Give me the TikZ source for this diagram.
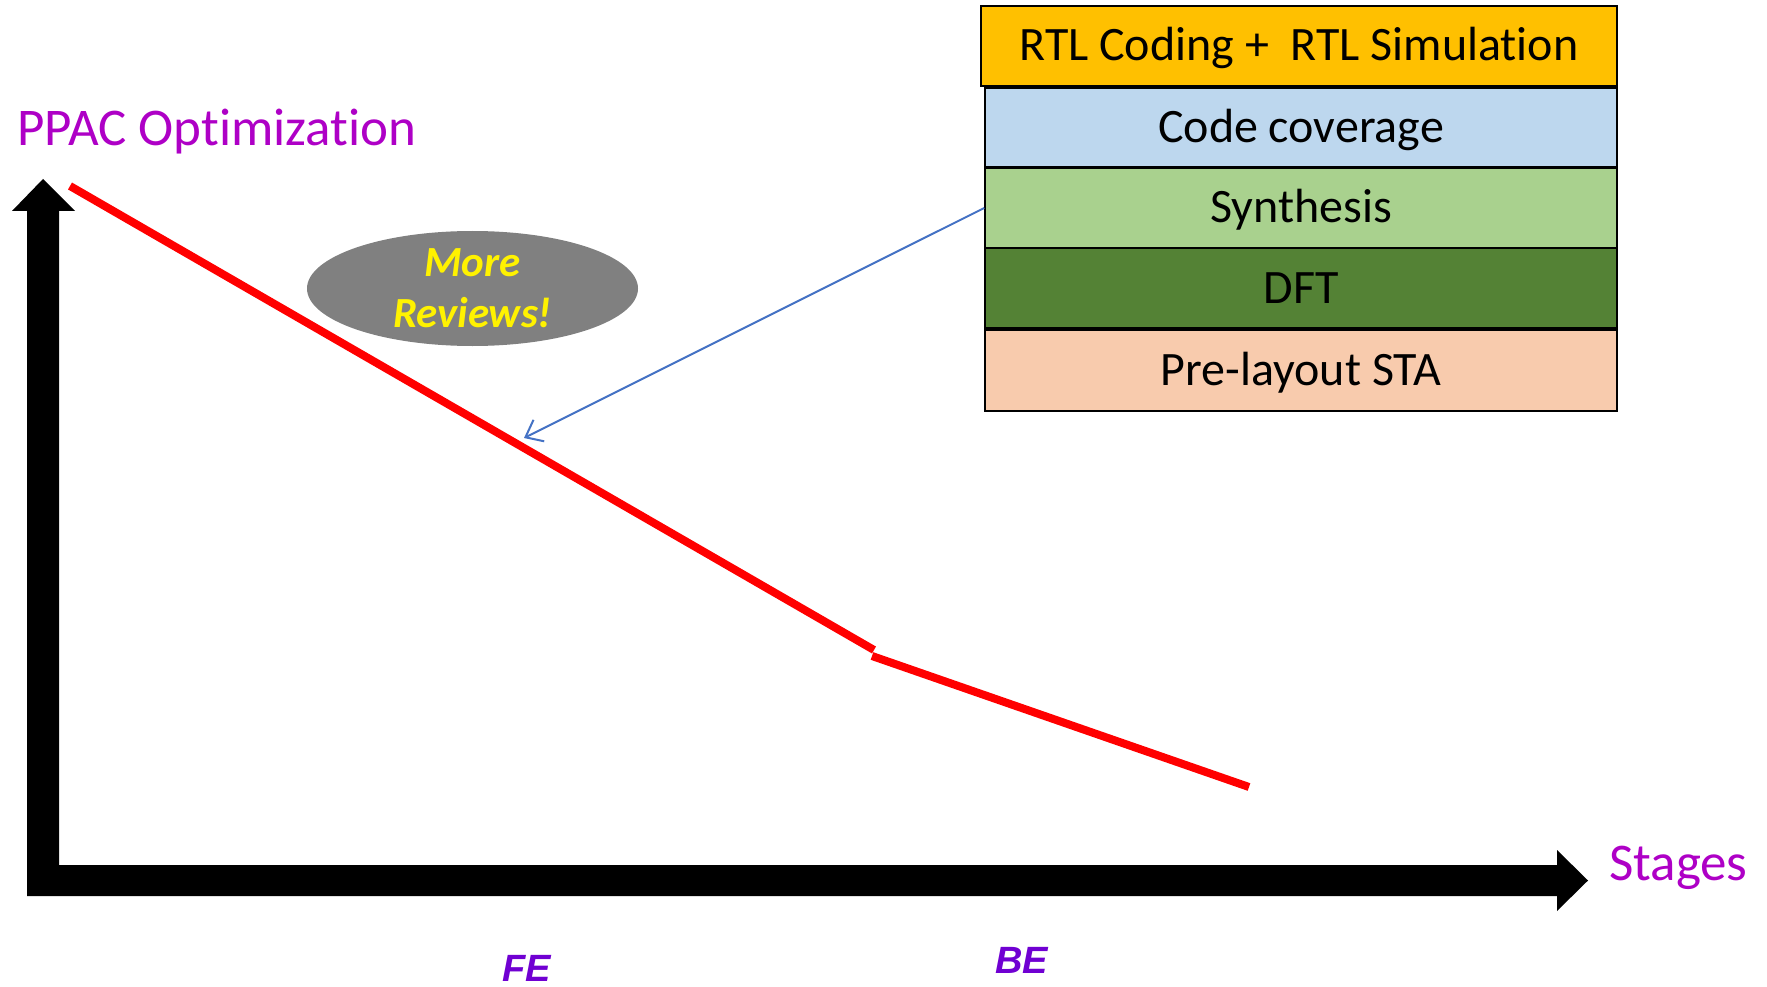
\documentclass[tikz,border=0pt]{standalone}
\usepackage{fontspec}
\setmainfont{Carlito}[Ligatures=NoCommon]
\newfontfamily\arialfont{Liberation Sans}
\usetikzlibrary{arrows.meta,shapes.geometric}

\definecolor{axislabel}{RGB}{174,0,198}
\definecolor{phaselabel}{RGB}{112,0,210}
\definecolor{rtlfill}{HTML}{FFC000}
\definecolor{covfill}{HTML}{BDD7EE}
\definecolor{synfill}{HTML}{A9D18E}
\definecolor{dftfill}{HTML}{548235}
\definecolor{stafill}{HTML}{F8CBAD}
\definecolor{pointer}{HTML}{4472C4}
\definecolor{bubble}{HTML}{808080}

\tikzset{
  stagebox/.style={draw=black, line width=1.5pt, inner sep=0pt, minimum width=632pt,
    text height=30pt, text depth=0pt, font=\fontsize{48}{58}\selectfont},
  axistext/.style={inner sep=0pt, anchor=base west, text=axislabel,
    font=\fontsize{53}{64}\selectfont},
  phasetext/.style={inner sep=0pt, anchor=base west, text=phaselabel,
    font=\arialfont\bfseries\itshape\fontsize{38}{44}\selectfont},
  trend/.style={draw=red, line width=8pt},
}

\begin{document}
\begin{tikzpicture}[x=1pt,y=-1pt]
\useasboundingbox (0,0) rectangle (1767,987);

% block arrows of the two axes
\fill[black] (27,896) -- (27,211) -- (12,211) -- (43,179) -- (75,211) -- (59,211)
  -- (59,865) -- (1557,865) -- (1557,850) -- (1588,880.5) -- (1557,911)
  -- (1557,896) -- cycle;

% axis labels
\node[axistext] (ylab) at (17,146) {PPAC Optimization};
\node[axistext] (xlab) at (1609,880) {Stages};

% phase labels
\node[phasetext] (fe) at (502,981.5) {FE};
\node[phasetext] (be) at (995,973) {BE};

% trend of the optimization scope
\coordinate (t0) at (70,186);
\coordinate (t1) at (874,650);
\coordinate (t2) at (872,656);
\coordinate (t3) at (1249,787);
\draw[trend] (t0) -- (t1);
\draw[trend] (t2) -- (t3);

% review bubble
\node[ellipse, fill=bubble, minimum width=331pt, minimum height=115pt, inner sep=0pt,
  align=center, text=yellow, font=\bfseries\itshape\fontsize{43}{51}\selectfont]
  (rev) at (472.5,288.5) {More\\Reviews!};

% flow stages
\node[stagebox, fill=rtlfill, minimum width=636pt, minimum height=80pt] (rtl) at (1299,46)
  {RTL Coding +\ \ RTL Simulation};
\node[stagebox, fill=covfill, minimum height=79pt] (cov) at (1301,127.5) {Code coverage};
\node[stagebox, fill=synfill, minimum height=80pt] (syn) at (1301,208) {Synthesis};
\node[stagebox, fill=dftfill, minimum height=80pt] (dft) at (1301,288) {DFT};
\node[stagebox, fill=stafill, minimum height=81pt] (sta) at (1301,370.5) {Pre-layout STA};

% pointer from the flow to the curve
\coordinate (hit) at (524,438);
\draw[pointer, line width=2pt, -{Straight Barb[length=15pt,width=24pt,line width=2pt]}]
  (syn.west) -- (hit);
\end{tikzpicture}
\end{document}
